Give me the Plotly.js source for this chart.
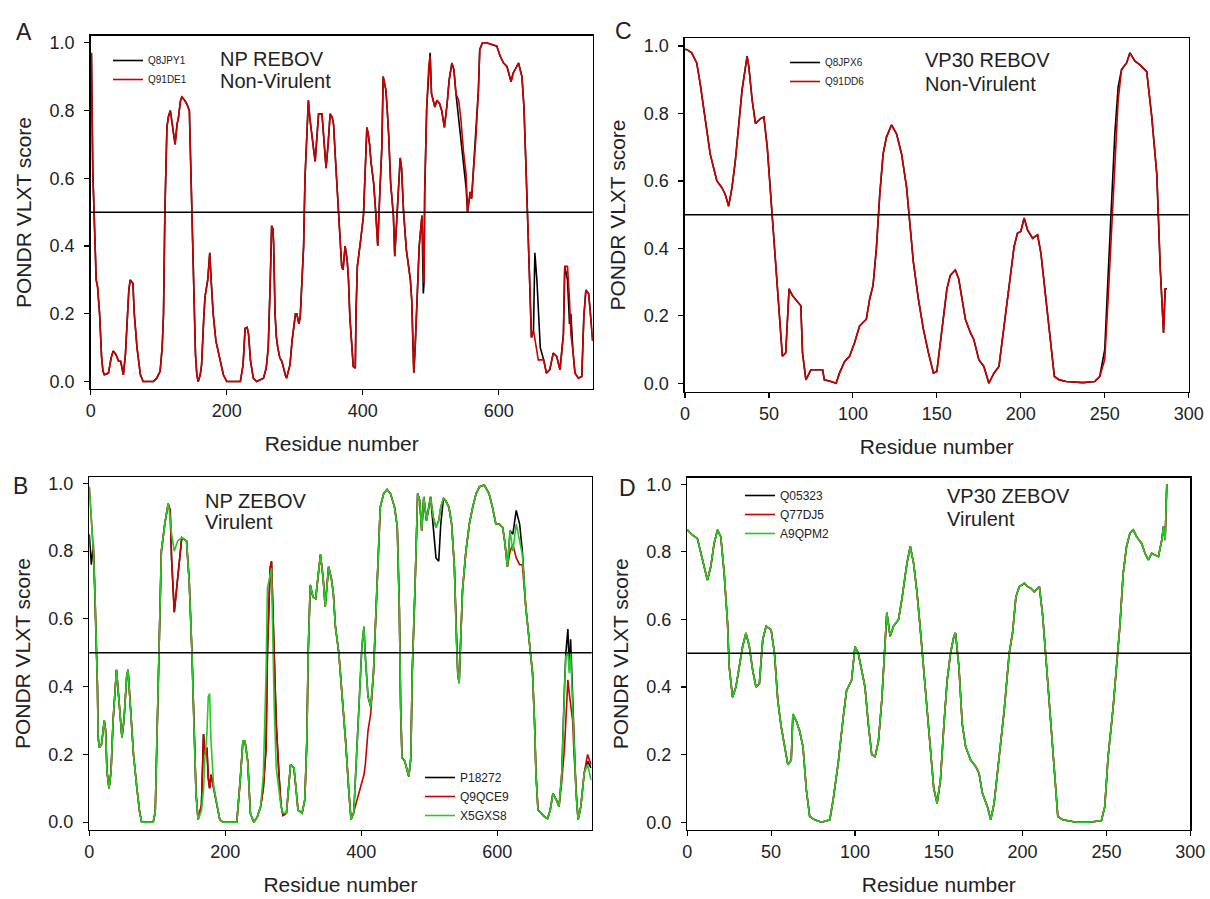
<!DOCTYPE html>
<html>
<head>
<meta charset="utf-8">
<script src="https://cdn.plot.ly/plotly-3.0.1.min.js"></script>
<style>html,body{margin:0;padding:0;background:#fff;}#chart{width:1210px;height:899px;}</style>
</head>
<body>
<div id="chart"></div>
<script>
// ---------- Panel A: NP REBOV (non-virulent) ----------
const npRebovResidue = [
  0,1,3,5,6,8,10,13,16,18,
  20,26,30,33,37,41,44,48,51,53,
  56,58,62,64,68,73,77,92,97,102,
  105,107,109,112,114,117,120,124,127,129,
  132,134,138,141,145,147,149,151,152,154,
  156,158,161,163,166,168,172,175,177,180,
  184,188,192,195,200,220,224,227,230,232,
  235,239,244,250,254,258,261,264,266,268,
  269,271,273,275,278,281,283,286,288,291,
  293,296,298,301,303,306,308,310,313,315,
  318,320,322,325,328,330,333,335,340,343,
  346,349,352,355,357,360,362,364,366,369,
  371,374,377,379,381,384,386,389,390,392,
  395,397,401,403,406,408,410,412,416,419,
  422,425,428,430,432,434,436,438,441,445,
  447,450,452,455,457,460,464,467,470,472,
  474,475,477,479,483,487,489,490,491,494,
  497,499,501,504,506,509,513,516,520,524,
  527,531,534,537,541,544,548,552,554,558,
  560,563,566,570,572,576,582,590,597,602,
  607,612,618,621,626,629,634,637,640,643,
  646,648,651,653,656,658,661,666,670,675,
  680,685,690,695,697,701,704,706,709,712,
  717,722,725,728,732,734,738
];
const npRebovQ91DE1 = [
  0.96,0.97,0.62,0.5,0.38,0.3,0.28,0.2,0.07,0.03,
  0.02,0.025,0.07,0.09,0.08,0.06,0.06,0.02,0.08,0.15,
  0.27,0.3,0.29,0.2,0.1,0.02,0.0,0.0,0.01,0.03,
  0.1,0.2,0.5,0.75,0.78,0.8,0.75,0.7,0.76,0.78,
  0.83,0.84,0.83,0.82,0.8,0.65,0.5,0.3,0.2,0.08,
  0.02,0.0,0.02,0.05,0.18,0.25,0.3,0.38,0.3,0.2,
  0.12,0.08,0.04,0.02,0.0,0.0,0.05,0.157,0.16,0.14,
  0.06,0.01,0.0,0.005,0.01,0.04,0.1,0.3,0.46,0.45,
  0.4,0.2,0.13,0.1,0.07,0.06,0.04,0.02,0.01,0.03,
  0.05,0.12,0.15,0.2,0.2,0.17,0.19,0.28,0.4,0.6,
  0.75,0.83,0.78,0.72,0.68,0.65,0.75,0.79,0.79,0.7,
  0.63,0.7,0.79,0.78,0.76,0.65,0.575,0.5,0.42,0.34,
  0.33,0.4,0.36,0.3,0.19,0.1,0.044,0.04,0.2,0.34,
  0.38,0.42,0.49,0.6,0.75,0.73,0.7,0.65,0.585,0.5,
  0.4,0.555,0.69,0.9,0.88,0.86,0.8,0.73,0.585,0.49,
  0.37,0.49,0.54,0.66,0.63,0.5,0.39,0.34,0.3,0.24,
  0.1,0.025,0.1,0.19,0.4,0.49,0.35,0.29,0.555,0.81,
  0.93,0.96,0.85,0.83,0.81,0.83,0.82,0.8,0.75,0.82,
  0.89,0.94,0.92,0.85,0.83,0.78,0.68,0.61,0.5,0.56,
  0.54,0.63,0.71,0.86,0.98,1.0,1.0,0.995,0.99,0.96,
  0.94,0.93,0.885,0.91,0.93,0.94,0.9,0.81,0.63,0.44,
  0.29,0.13,0.15,0.12,0.09,0.064,0.064,0.064,0.025,0.035,
  0.084,0.075,0.035,0.14,0.34,0.34,0.24,0.14,0.09,0.025,
  0.01,0.015,0.19,0.27,0.26,0.22,0.12
];
const npRebovQ8JPY1 = [
  0.96,0.97,0.62,0.5,0.38,0.3,0.28,0.2,0.07,0.03,
  0.02,0.025,0.07,0.09,0.08,0.06,0.06,0.02,0.08,0.15,
  0.27,0.3,0.29,0.2,0.1,0.02,0.0,0.0,0.01,0.03,
  0.1,0.2,0.5,0.75,0.78,0.8,0.75,0.7,0.76,0.78,
  0.83,0.84,0.83,0.82,0.8,0.65,0.5,0.3,0.2,0.08,
  0.02,0.0,0.02,0.05,0.18,0.25,0.3,0.38,0.3,0.2,
  0.12,0.08,0.04,0.02,0.0,0.0,0.05,0.157,0.16,0.14,
  0.06,0.01,0.0,0.005,0.01,0.04,0.1,0.3,0.46,0.45,
  0.4,0.2,0.13,0.1,0.07,0.06,0.04,0.02,0.01,0.03,
  0.05,0.12,0.15,0.2,0.2,0.17,0.19,0.28,0.4,0.6,
  0.75,0.83,0.78,0.72,0.68,0.65,0.75,0.79,0.79,0.7,
  0.63,0.7,0.79,0.78,0.76,0.65,0.575,0.5,0.42,0.34,
  0.33,0.4,0.36,0.3,0.19,0.1,0.044,0.04,0.2,0.34,
  0.38,0.42,0.49,0.6,0.75,0.73,0.7,0.65,0.585,0.5,
  0.4,0.555,0.69,0.9,0.88,0.86,0.8,0.73,0.585,0.49,
  0.37,0.49,0.54,0.66,0.63,0.5,0.39,0.34,0.3,0.24,
  0.1,0.025,0.1,0.19,0.4,0.49,0.26,0.29,0.555,0.81,
  0.93,0.97,0.85,0.83,0.81,0.83,0.82,0.8,0.75,0.82,
  0.89,0.94,0.92,0.85,0.78,0.72,0.64,0.57,0.5,0.56,
  0.54,0.63,0.71,0.86,0.98,1.0,1.0,0.995,0.99,0.96,
  0.94,0.93,0.885,0.91,0.93,0.94,0.9,0.81,0.63,0.44,
  0.29,0.13,0.15,0.38,0.3,0.2,0.1,0.064,0.025,0.035,
  0.084,0.075,0.035,0.14,0.34,0.3,0.17,0.2,0.09,0.025,
  0.01,0.015,0.19,0.27,0.26,0.22,0.12
];

// ---------- Panel C: VP30 REBOV (non-virulent) ----------
const vp30RebovResidue = [
  0,1,4,7,9,11,13,15,17,19,
  22,24,26,28,30,32,34,37,38,40,
  42,45,47,49,51,53,55,57,58,60,
  62,64,67,69,70,72,75,78,82,83,
  86,90,92,95,98,101,104,108,110,112,
  114,116,118,120,123,126,129,132,134,136,
  139,142,145,148,150,153,156,158,161,163,
  165,167,170,172,175,178,181,184,187,190,
  193,196,198,200,202,204,207,210,212,215,
  218,220,223,227,237,244,247,250,252,254,
  256,258,260,263,265,268,271,275,278,281,
  282,283,285,286,287
];
const vp30RebovQ91DD6 = [
  0.99,0.99,0.98,0.95,0.89,0.82,0.74,0.68,0.64,0.6,
  0.58,0.56,0.525,0.58,0.66,0.77,0.87,0.97,0.94,0.84,
  0.77,0.785,0.79,0.7,0.56,0.44,0.3,0.16,0.08,0.09,
  0.28,0.26,0.24,0.23,0.09,0.01,0.04,0.04,0.04,0.01,
  0.007,0.0,0.03,0.064,0.08,0.12,0.17,0.19,0.25,0.29,
  0.4,0.56,0.68,0.73,0.766,0.74,0.68,0.58,0.48,0.36,
  0.25,0.16,0.09,0.03,0.035,0.15,0.28,0.32,0.336,0.31,
  0.25,0.19,0.15,0.13,0.07,0.05,0.0,0.03,0.05,0.17,
  0.29,0.405,0.445,0.45,0.49,0.455,0.43,0.44,0.385,0.25,
  0.11,0.02,0.01,0.005,0.002,0.005,0.02,0.07,0.25,0.445,
  0.64,0.84,0.93,0.95,0.98,0.955,0.944,0.924,0.79,0.62,
  0.49,0.346,0.15,0.28,0.28
];
const vp30RebovQ8JPX6 = [
  0.99,0.99,0.98,0.95,0.89,0.82,0.74,0.68,0.64,0.6,
  0.58,0.56,0.525,0.58,0.66,0.77,0.87,0.97,0.94,0.84,
  0.77,0.785,0.79,0.7,0.56,0.44,0.3,0.16,0.08,0.09,
  0.28,0.26,0.24,0.23,0.09,0.01,0.04,0.04,0.04,0.01,
  0.007,0.0,0.03,0.064,0.08,0.12,0.17,0.19,0.25,0.29,
  0.4,0.56,0.68,0.73,0.766,0.74,0.68,0.58,0.48,0.36,
  0.25,0.16,0.09,0.03,0.035,0.15,0.28,0.32,0.336,0.31,
  0.25,0.19,0.15,0.13,0.07,0.05,0.0,0.03,0.05,0.17,
  0.29,0.405,0.445,0.45,0.49,0.455,0.43,0.44,0.385,0.25,
  0.11,0.02,0.01,0.005,0.002,0.005,0.02,0.1,0.32,0.52,
  0.74,0.88,0.93,0.95,0.98,0.955,0.944,0.924,0.79,0.62,
  0.49,0.346,0.15,0.28,0.28
];

// ---------- Panel B: NP ZEBOV (virulent) ----------
const npZebovResidue = [
  0,3,6,8,11,12,13,15,18,22,
  24,26,29,32,35,38,40,42,46,48,
  51,55,57,60,65,70,74,77,94,97,
  99,103,106,111,116,119,121,125,130,136,
  143,147,151,154,157,160,165,168,170,173,
  175,177,179,183,188,192,197,217,222,226,
  229,233,237,242,247,252,256,260,262,266,
  268,270,272,275,279,282,285,290,296,301,
  304,307,313,317,320,322,325,329,333,336,
  340,344,347,352,356,359,362,367,372,377,
  382,385,389,394,398,401,404,406,410,414,
  418,421,425,428,433,438,443,449,453,456,
  458,460,464,467,470,473,475,479,483,486,
  489,492,496,502,506,510,514,517,521,524,
  529,533,537,540,542,544,546,549,554,559,
  564,569,574,581,588,593,598,603,608,611,
  615,619,623,628,633,637,642,647,650,652,
  655,657,660,664,669,674,678,682,687,691,
  695,699,701,704,706,708,711,713,716,719,
  723,728,733,738
];
const npZebovX5GXS8 = [
  0.99,0.9,0.8,0.7,0.5,0.4,0.25,0.22,0.23,0.3,
  0.27,0.15,0.1,0.15,0.3,0.4,0.45,0.4,0.3,0.25,
  0.3,0.43,0.45,0.35,0.2,0.1,0.03,0.0,0.0,0.03,
  0.2,0.5,0.8,0.88,0.94,0.9,0.85,0.8,0.83,0.84,
  0.83,0.71,0.5,0.28,0.085,0.007,0.035,0.095,0.19,0.26,
  0.37,0.38,0.24,0.105,0.046,0.007,0.0,0.0,0.125,0.24,
  0.24,0.18,0.025,0.0,0.015,0.046,0.14,0.44,0.69,0.73,
  0.75,0.54,0.34,0.16,0.095,0.046,0.027,0.027,0.17,0.16,
  0.1,0.036,0.027,0.066,0.24,0.5,0.7,0.665,0.66,0.72,
  0.79,0.72,0.636,0.754,0.72,0.675,0.577,0.5,0.38,0.24,
  0.085,0.007,0.027,0.24,0.39,0.52,0.577,0.49,0.37,0.34,
  0.44,0.587,0.784,0.93,0.97,0.982,0.97,0.93,0.872,0.636,
  0.34,0.19,0.18,0.155,0.135,0.19,0.44,0.685,0.97,0.95,
  0.86,0.96,0.89,0.96,0.9,0.87,0.89,0.93,0.956,0.95,
  0.93,0.88,0.754,0.54,0.44,0.41,0.54,0.685,0.8,0.88,
  0.93,0.97,0.99,0.995,0.97,0.93,0.88,0.88,0.87,0.83,
  0.754,0.86,0.8,0.88,0.83,0.79,0.636,0.54,0.48,0.44,
  0.29,0.145,0.036,0.027,0.017,0.01,0.036,0.085,0.066,0.046,
  0.145,0.39,0.49,0.5,0.44,0.5,0.36,0.22,0.085,0.007,
  0.046,0.145,0.17,0.125
];
const npZebovQ9QCE9 = [
  0.99,0.9,0.8,0.7,0.5,0.4,0.25,0.22,0.23,0.3,
  0.27,0.15,0.1,0.15,0.3,0.4,0.45,0.4,0.3,0.25,
  0.3,0.43,0.45,0.35,0.2,0.1,0.03,0.0,0.0,0.03,
  0.2,0.5,0.8,0.88,0.94,0.92,0.78,0.62,0.72,0.84,
  0.83,0.71,0.5,0.28,0.085,0.007,0.05,0.26,0.2,0.22,
  0.13,0.1,0.14,0.1,0.046,0.007,0.0,0.0,0.125,0.24,
  0.24,0.18,0.025,0.0,0.015,0.046,0.1,0.22,0.5,0.75,
  0.77,0.62,0.44,0.29,0.14,0.05,0.02,0.027,0.17,0.16,
  0.1,0.036,0.027,0.066,0.24,0.5,0.7,0.665,0.66,0.72,
  0.79,0.72,0.636,0.754,0.72,0.675,0.577,0.5,0.38,0.24,
  0.085,0.007,0.03,0.066,0.1,0.115,0.14,0.17,0.27,0.32,
  0.44,0.587,0.784,0.93,0.97,0.982,0.97,0.93,0.872,0.636,
  0.34,0.19,0.18,0.155,0.135,0.19,0.44,0.685,0.97,0.95,
  0.86,0.96,0.89,0.96,0.9,0.87,0.89,0.93,0.956,0.95,
  0.93,0.88,0.754,0.54,0.44,0.41,0.54,0.685,0.8,0.88,
  0.93,0.97,0.99,0.995,0.97,0.93,0.88,0.88,0.87,0.83,
  0.754,0.8,0.82,0.78,0.76,0.76,0.636,0.54,0.48,0.44,
  0.29,0.145,0.036,0.027,0.017,0.01,0.036,0.085,0.066,0.046,
  0.12,0.22,0.3,0.42,0.38,0.35,0.3,0.2,0.085,0.007,
  0.046,0.145,0.2,0.17
];
const npZebovP18272 = [
  0.85,0.76,0.82,0.7,0.5,0.4,0.25,0.22,0.23,0.3,
  0.27,0.15,0.1,0.15,0.3,0.4,0.45,0.4,0.3,0.25,
  0.3,0.43,0.45,0.35,0.2,0.1,0.03,0.0,0.0,0.03,
  0.2,0.5,0.8,0.88,0.94,0.92,0.78,0.62,0.72,0.84,
  0.83,0.71,0.5,0.28,0.085,0.007,0.05,0.26,0.2,0.22,
  0.13,0.1,0.14,0.1,0.046,0.007,0.0,0.0,0.125,0.24,
  0.24,0.18,0.025,0.0,0.015,0.046,0.1,0.22,0.5,0.75,
  0.77,0.62,0.44,0.29,0.14,0.05,0.02,0.027,0.17,0.16,
  0.1,0.036,0.027,0.066,0.24,0.5,0.7,0.665,0.66,0.72,
  0.79,0.72,0.636,0.754,0.72,0.675,0.577,0.5,0.38,0.24,
  0.085,0.007,0.027,0.24,0.39,0.52,0.577,0.49,0.37,0.34,
  0.44,0.587,0.784,0.93,0.97,0.982,0.97,0.93,0.872,0.636,
  0.34,0.19,0.18,0.155,0.135,0.19,0.44,0.685,0.97,0.95,
  0.86,0.96,0.89,0.96,0.88,0.78,0.77,0.88,0.956,0.95,
  0.93,0.88,0.754,0.54,0.44,0.41,0.54,0.685,0.8,0.88,
  0.93,0.97,0.99,0.995,0.97,0.93,0.88,0.88,0.87,0.83,
  0.754,0.86,0.85,0.92,0.88,0.8,0.636,0.54,0.48,0.44,
  0.29,0.145,0.036,0.027,0.017,0.01,0.036,0.085,0.066,0.046,
  0.145,0.4,0.5,0.57,0.45,0.54,0.38,0.22,0.085,0.007,
  0.046,0.145,0.18,0.16
];

// ---------- Panel D: VP30 ZEBOV (virulent) ----------
const vp30ZebovResidue = [
  0,3,6,9,12,14,16,18,20,22,
  24,25,27,29,31,33,35,37,39,41,
  43,45,47,50,52,54,56,58,60,62,
  63,65,67,69,71,73,76,80,85,87,
  90,93,95,98,100,102,104,106,108,110,
  112,114,116,118,119,121,123,126,128,131,
  133,135,137,139,141,143,145,147,149,151,
  153,155,157,159,160,162,164,166,169,172,
  174,176,179,181,183,186,189,192,194,196,
  198,201,203,205,207,210,212,214,217,219,
  221,224,232,240,247,249,251,254,256,258,
  260,262,264,266,268,271,273,275,277,279,
  281,283,284,285,286
];
const vp30ZebovA9QPM2 = [
  0.865,0.85,0.84,0.776,0.717,0.756,0.825,0.865,0.845,0.737,
  0.59,0.46,0.37,0.4,0.46,0.52,0.56,0.52,0.45,0.4,
  0.41,0.54,0.58,0.57,0.5,0.36,0.283,0.224,0.17,0.184,
  0.32,0.3,0.27,0.224,0.096,0.017,0.007,0.0,0.007,0.066,
  0.175,0.31,0.39,0.42,0.52,0.5,0.45,0.4,0.29,0.2,
  0.194,0.24,0.36,0.54,0.62,0.55,0.58,0.6,0.66,0.766,
  0.816,0.766,0.68,0.57,0.45,0.32,0.2,0.1,0.056,0.125,
  0.283,0.42,0.5,0.55,0.56,0.46,0.29,0.224,0.184,0.165,
  0.145,0.086,0.046,0.007,0.056,0.194,0.33,0.5,0.56,0.667,
  0.697,0.707,0.697,0.692,0.682,0.697,0.61,0.48,0.29,0.145,
  0.017,0.007,0.0,0.0,0.005,0.046,0.194,0.34,0.46,0.58,
  0.737,0.816,0.855,0.865,0.845,0.825,0.796,0.776,0.796,0.79,
  0.786,0.835,0.875,0.835,1.0
];
const vp30ZebovQ77DJ5 = [
  0.865,0.85,0.84,0.776,0.717,0.756,0.825,0.865,0.845,0.737,
  0.59,0.46,0.37,0.4,0.46,0.52,0.56,0.52,0.45,0.4,
  0.41,0.54,0.58,0.57,0.5,0.36,0.283,0.224,0.17,0.184,
  0.32,0.3,0.27,0.224,0.096,0.017,0.007,0.0,0.007,0.066,
  0.175,0.31,0.39,0.42,0.52,0.5,0.45,0.4,0.29,0.2,
  0.194,0.24,0.36,0.54,0.62,0.55,0.58,0.6,0.66,0.766,
  0.816,0.766,0.68,0.57,0.45,0.32,0.2,0.1,0.056,0.125,
  0.283,0.42,0.5,0.55,0.56,0.46,0.29,0.224,0.184,0.165,
  0.145,0.086,0.046,0.007,0.056,0.194,0.33,0.5,0.56,0.667,
  0.697,0.707,0.697,0.692,0.682,0.697,0.61,0.48,0.29,0.145,
  0.017,0.007,0.0,0.0,0.005,0.046,0.194,0.34,0.46,0.58,
  0.737,0.816,0.855,0.865,0.845,0.825,0.796,0.776,0.796,0.79,
  0.786,0.835,0.875,0.835,1.0
];
const vp30ZebovQ05323 = [
  0.865,0.85,0.84,0.776,0.717,0.756,0.825,0.865,0.845,0.737,
  0.59,0.46,0.37,0.4,0.46,0.52,0.56,0.52,0.45,0.4,
  0.41,0.54,0.58,0.57,0.5,0.36,0.283,0.224,0.17,0.184,
  0.32,0.3,0.27,0.224,0.096,0.017,0.007,0.0,0.007,0.066,
  0.175,0.31,0.39,0.42,0.52,0.5,0.45,0.4,0.29,0.2,
  0.194,0.24,0.36,0.54,0.62,0.55,0.58,0.6,0.66,0.766,
  0.816,0.766,0.68,0.57,0.45,0.32,0.2,0.1,0.056,0.125,
  0.283,0.42,0.5,0.55,0.56,0.46,0.29,0.224,0.184,0.165,
  0.145,0.086,0.046,0.007,0.056,0.194,0.33,0.5,0.56,0.667,
  0.697,0.707,0.697,0.692,0.682,0.697,0.61,0.48,0.29,0.145,
  0.017,0.007,0.0,0.0,0.005,0.046,0.194,0.34,0.46,0.58,
  0.737,0.816,0.855,0.865,0.845,0.825,0.796,0.776,0.796,0.79,
  0.786,0.835,0.875,0.835,1.0
];

const yTicks = [0, 0.2, 0.4, 0.6, 0.8, 1.0];
const npTicks = [0, 200, 400, 600];
const vp30Ticks = [0, 50, 100, 150, 200, 250, 300];
const cutoff = 0.5;

const BLACK = '#000000', RED = '#cc0000', GREEN = '#22cc22';
const FONT = 'Liberation Sans, Arial, sans-serif';

function line(x, y, name, color, xa, ya, lg) {
  return {type: 'scatter', mode: 'lines', x: x, y: y, name: name,
          line: {color: color, width: 1.6}, xaxis: xa, yaxis: ya, legend: lg,
          hoverinfo: 'x+y+name'};
}

const data = [
  line(npRebovResidue, npRebovQ8JPY1, 'Q8JPY1', BLACK, 'x', 'y', 'legend'),
  line(npRebovResidue, npRebovQ91DE1, 'Q91DE1', RED, 'x', 'y', 'legend'),
  line(vp30RebovResidue, vp30RebovQ8JPX6, 'Q8JPX6', BLACK, 'x2', 'y2', 'legend2'),
  line(vp30RebovResidue, vp30RebovQ91DD6, 'Q91DD6', RED, 'x2', 'y2', 'legend2'),
  line(npZebovResidue, npZebovP18272, 'P18272', BLACK, 'x3', 'y3', 'legend3'),
  line(npZebovResidue, npZebovQ9QCE9, 'Q9QCE9', RED, 'x3', 'y3', 'legend3'),
  line(npZebovResidue, npZebovX5GXS8, 'X5GXS8', GREEN, 'x3', 'y3', 'legend3'),
  line(vp30ZebovResidue, vp30ZebovQ05323, 'Q05323', BLACK, 'x4', 'y4', 'legend4'),
  line(vp30ZebovResidue, vp30ZebovQ77DJ5, 'Q77DJ5', RED, 'x4', 'y4', 'legend4'),
  line(vp30ZebovResidue, vp30ZebovA9QPM2, 'A9QPM2', GREEN, 'x4', 'y4', 'legend4')
];

function xAx(domain, range, ticks, anchor) {
  return {domain: domain, range: range, anchor: anchor, tickvals: ticks,
          showline: true, linecolor: '#000', linewidth: 1.5, mirror: true,
          ticks: 'outside', ticklen: 5, tickwidth: 1.2, tickcolor: '#000',
          showgrid: false, zeroline: false, ticklabelstandoff: 0, automargin: true,
          tickfont: {family: FONT, size: 18, color: '#222'},
          title: {text: 'Residue number', standoff: 16,
                  font: {family: FONT, size: 21, color: '#222'}}};
}
function yAx(domain, range, anchor) {
  return {domain: domain, range: range, anchor: anchor, tickvals: yTicks, tickformat: '.1f',
          showline: true, linecolor: '#000', linewidth: 1.5, mirror: true,
          ticks: 'outside', ticklen: 5, tickwidth: 1.2, tickcolor: '#000',
          showgrid: false, zeroline: false, ticklabelstandoff: 6, automargin: true,
          tickfont: {family: FONT, size: 18, color: '#222'},
          title: {text: 'PONDR VLXT score', standoff: 12,
                  font: {family: FONT, size: 21, color: '#222'}}};
}
function cut(xa, ya) {
  return {type: 'line', xref: xa + ' domain', x0: 0, x1: 1, yref: ya, y0: cutoff, y1: cutoff,
          line: {color: '#000', width: 1.5}, layer: 'above'};
}
function txt(x, y, s, size) {
  return {xref: 'paper', yref: 'paper', x: x / 1210, y: 1 - y / 899, text: s, showarrow: false,
          xanchor: 'left', yanchor: 'middle', font: {family: FONT, size: size, color: '#222'}};
}
function lgd(x, y, size) {
  return {x: x / 1210, y: 1 - y / 899, xanchor: 'left', yanchor: 'top', bgcolor: 'rgba(0,0,0,0)',
          borderwidth: 0, itemwidth: 30, font: {family: FONT, size: size, color: '#222'}};
}

const layout = {
  width: 1210, height: 899, margin: {l: 0, r: 0, t: 0, b: 0, autoexpand: false},
  paper_bgcolor: '#fff', plot_bgcolor: '#fff', font: {family: FONT},
  showlegend: true,
  xaxis: xAx([0.075, 0.4898], [0, 738], npTicks, 'y'),
  yaxis: yAx([0.5673, 0.96], [-0.022, 1.02], 'x'),
  xaxis2: xAx([0.5661, 0.9824], [0, 300], vp30Ticks, 'y2'),
  yaxis2: yAx([0.5643, 0.9574], [-0.025, 1.023], 'x2'),
  xaxis3: xAx([0.0738, 0.489], [0, 739], npTicks, 'y3'),
  yaxis3: yAx([0.0768, 0.4691], [-0.023, 1.018], 'x3'),
  xaxis4: xAx([0.568, 0.9837], [0, 300], vp30Ticks, 'y4'),
  yaxis4: yAx([0.0768, 0.4686], [-0.023, 1.0195], 'x4'),
  legend: lgd(108, 46, 10),
  legend2: lgd(785, 48, 10),
  legend3: lgd(420, 763, 12),
  legend4: lgd(740, 481, 12),
  shapes: [cut('x', 'y'), cut('x2', 'y2'), cut('x3', 'y3'), cut('x4', 'y4')],
  annotations: [
    txt(218, 59, 'NP REBOV', 20), txt(218, 81, 'Non-Virulent', 20),
    txt(923, 60, 'VP30 REBOV', 20), txt(923, 84, 'Non-Virulent', 20),
    txt(203, 501, 'NP ZEBOV', 20), txt(203, 522, 'Virulent', 20),
    txt(945, 496, 'VP30 ZEBOV', 20), txt(945, 519, 'Virulent', 20),
    txt(14, 32, 'A', 23), txt(613, 31, 'C', 23),
    txt(11, 486, 'B', 23), txt(617, 488, 'D', 23)
  ]
};

Plotly.newPlot('chart', data, layout, {displayModeBar: false, staticPlot: true});
</script>
</body>
</html>
